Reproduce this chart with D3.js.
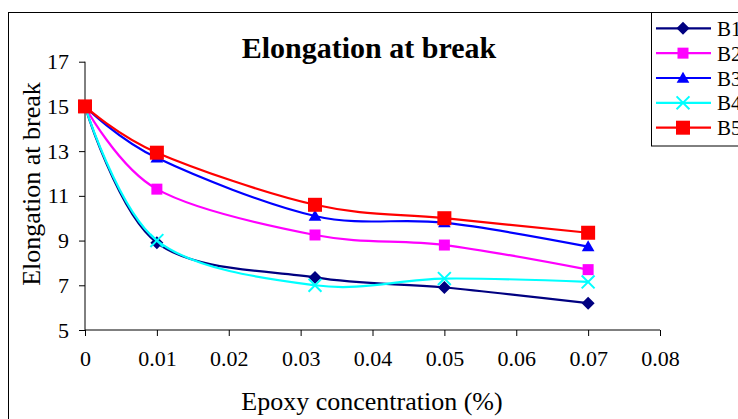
<!DOCTYPE html>
<meta charset="utf-8">
<head>
  <title>Elongation at break</title>
  <script src="https://d3js.org/d3.v7.min.js"></script>
  <style>
    body { margin: 0; background: #fff; }
    svg { display: block; font-family: "Liberation Serif", "Times New Roman", serif; }
    .axis path, .axis line { stroke: #000; stroke-width: 1px; }
    .axis text { font-size: 22px; fill: #000; font-family: "Liberation Serif", serif; }
  </style>
</head>
<body>
<svg width="738" height="419"></svg>
<script>
  // data
  var concentration = [0, 0.01, 0.032, 0.05, 0.07];
  var seriesNames = ["B1", "B2", "B3", "B4", "B5"];
  var B1 = [15, 8.9, 7.35, 6.9, 6.2];
  var B2 = [15, 11.3, 9.25, 8.8, 7.7];
  var B3 = [15, 12.7, 10.1, 9.8, 8.73];
  var B4 = [15, 9.0, 7.0, 7.3, 7.15];
  var B5 = [15, 12.93, 10.6, 10.0, 9.35];
  var xTicks = [0, 0.01, 0.02, 0.03, 0.04, 0.05, 0.06, 0.07, 0.08];
  var yTicks = [5, 7, 9, 11, 13, 15, 17];

  var colors = ["#000080", "#ff00ff", "#0000ff", "#00ffff", "#ff0000"];
  var shapes = ["diamond", "square", "triangle", "cross", "bigsquare"];
  var values = [B1, B2, B3, B4, B5];

  var svg = d3.select("svg");

  // outer chart frame
  svg.append("rect")
    .attr("x", 8.5).attr("y", 12.5)
    .attr("width", 800).attr("height", 500)
    .attr("fill", "none").attr("stroke", "#000");

  var x = d3.scaleLinear().domain([0, 0.08]).range([85, 660]);
  var y = d3.scaleLinear().domain([5, 17]).range([330, 61.7]);

  svg.append("g")
    .attr("class", "axis")
    .attr("transform", "translate(0,330)")
    .call(d3.axisBottom(x).tickValues(xTicks).tickSize(6).tickPadding(14)
      .tickFormat(function(d) { return d === 0 ? "0" : d3.format(".2f")(d); }))
    .call(function(g) { g.select(".domain").attr("d", "M85,0H660"); });

  svg.append("g")
    .attr("class", "axis")
    .attr("transform", "translate(85,0)")
    .call(d3.axisLeft(y).tickValues(yTicks).tickSize(6).tickPadding(10))
    .call(function(g) { g.select(".domain").attr("d", "M0,61.7V330"); });

  // title
  svg.append("text")
    .attr("x", 369).attr("y", 58)
    .attr("text-anchor", "middle")
    .style("font-size", "30px").style("font-weight", "bold")
    .text("Elongation at break");

  svg.append("text")
    .attr("transform", "translate(40,184) rotate(-90)")
    .attr("text-anchor", "middle")
    .style("font-size", "26px")
    .text("Elongation at break");

  svg.append("text")
    .attr("x", 372).attr("y", 410)
    .attr("text-anchor", "middle")
    .style("font-size", "26px")
    .text("Epoxy concentration (%)");

  function marker(g, shape, color) {
    if (shape === "diamond") {
      g.append("path").attr("d", d3.symbol(d3.symbolSquare, 85)())
        .attr("transform", "rotate(45)").attr("fill", color);
    } else if (shape === "square") {
      g.append("path").attr("d", d3.symbol(d3.symbolSquare, 121)()).attr("fill", color);
    } else if (shape === "bigsquare") {
      g.append("path").attr("d", d3.symbol(d3.symbolSquare, 196)()).attr("fill", color);
    } else if (shape === "triangle") {
      g.append("path").attr("d", d3.symbol(d3.symbolTriangle, 70)())
        .attr("transform", "translate(0,1)").attr("fill", color);
    } else {
      g.append("path").attr("d", d3.symbol(d3.symbolX, 110)())
        .attr("fill", "none").attr("stroke", color).attr("stroke-width", 2);
    }
  }

  var line = d3.line()
    .x(function(d) { return x(d[0]); })
    .y(function(d) { return y(d[1]); })
    .curve(d3.curveCardinal.tension(0));

  values.forEach(function(vals, i) {
    var pts = concentration.map(function(c, j) { return [c, vals[j]]; });
    svg.append("path")
      .datum(pts)
      .attr("d", line)
      .attr("fill", "none")
      .attr("stroke", colors[i])
      .attr("stroke-width", 2.2);
    pts.forEach(function(p) {
      var g = svg.append("g").attr("transform", "translate(" + x(p[0]) + "," + y(p[1]) + ")");
      marker(g, shapes[i], colors[i]);
    });
  });

  // legend
  var legend = svg.append("g");
  legend.append("rect")
    .attr("x", 651.5).attr("y", 12.5)
    .attr("width", 120).attr("height", 133.5)
    .attr("fill", "#fff").attr("stroke", "#000");

  seriesNames.forEach(function(name, i) {
    var cy = 28.3 + i * 24.85;
    legend.append("line")
      .attr("x1", 656).attr("x2", 711).attr("y1", cy).attr("y2", cy)
      .attr("stroke", colors[i]).attr("stroke-width", 2.2);
    var g = legend.append("g").attr("transform", "translate(683," + cy + ")");
    marker(g, shapes[i], colors[i]);
    legend.append("text")
      .attr("x", 717).attr("y", cy + 7.5)
      .style("font-size", "21px")
      .text(name);
  });
</script>
</body>
